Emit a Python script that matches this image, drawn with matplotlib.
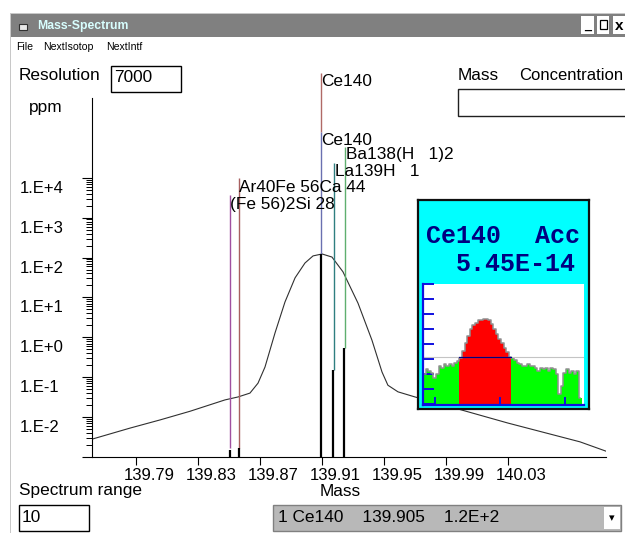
import matplotlib
matplotlib.use("Agg")
import matplotlib.pyplot as plt
from matplotlib.patches import Rectangle
from matplotlib.ticker import NullFormatter
from matplotlib.transforms import Affine2D

W, H = 625, 533

# spectrum curve
curve_mass = [139.7616, 139.7861, 139.8055, 139.8248, 139.8474, 139.8558, 139.8635, 139.8687,
              139.8732, 139.8797, 139.8861, 139.8926, 139.8990, 139.9042, 139.9100, 139.9164,
              139.9235, 139.9332, 139.9422, 139.9487, 139.9525, 139.9590, 139.9700, 139.9977,
              140.0299, 140.0764, 140.0932]
curve_ppm = [0.0028, 0.0053, 0.0085, 0.014, 0.027, 0.032, 0.040, 0.071,
             0.18, 1.3, 7.7, 31, 73, 110, 123, 103,
             44, 7.2, 0.85, 0.135, 0.063, 0.043, 0.032, 0.016,
             0.0071, 0.0024, 0.0014]

# coloured lines: mass, bottom, top
line_mass = [139.8506, 139.8564, 139.9091, 139.9091, 139.9179, 139.9248]
line_bottom = [0.0017, 0.0017, 1.4e5, 123, 0.15, 0.54]
line_top = [3700, 9800, 4.3e6, 1.4e5, 2.3e4, 5.9e4]
line_colors = ["#a050a0", "#a86060", "#b06a66", "#6a70b0", "#2f7f80", "#5faf6f"]

# black stems
stem_mass = [139.8506, 139.8564, 139.9091, 139.9173, 139.9240]
stem_ppm = [0.0015, 0.0017, 123, 0.15, 0.54]

x_ticks = [139.79, 139.83, 139.87, 139.91, 139.95, 139.99, 140.03]
y_decades = [1e-3, 1e-2, 1e-1, 1e0, 1e1, 1e2, 1e3, 1e4]
y_labels = ["", "1.E-2", "1.E-1", "1.E+0", "1.E+1", "1.E+2", "1.E+3", "1.E+4"]

# inset histogram (channel heights)
left_green = [1.96, 2.29, 2.18, 2.07, 1.73, 1.96, 2.51, 2.40, 2.62, 2.51, 2.62, 2.51, 2.73, 2.84]
mid_red = [3.07, 3.51, 4.07, 4.51, 4.96, 5.24, 5.40, 5.56, 5.62, 5.67, 5.67, 5.56, 5.29, 5.02,
           4.62, 4.29, 4.07, 3.73, 3.47, 3.11]
right_green = [3.02, 2.89, 2.73, 2.62, 2.51, 2.51, 2.62, 2.51, 2.51, 2.40, 2.18, 2.40, 2.29, 2.40,
               2.18, 2.40, 2.29, 1.96, 0.62, 1.18, 2.07, 2.29, 2.07, 2.18, 1.96, 2.18, 0.40]
threshold = 3.11

FONT = "Liberation Sans"
plt.rcParams["font.family"] = FONT


def fx(x):
    return x / W


def fy(y):
    return 1 - y / H


def label(x, y, s, size=12.4, **kw):
    kw.setdefault("va", "center")
    fig.text(fx(x), fy(y), s, fontsize=size, color=kw.pop("color", "black"), **kw)


def box(x0, y0, x1, y1, face="white", edge="none", lw=1.0):
    fig.add_artist(Rectangle((fx(x0), fy(y1)), fx(x1 - x0), (y1 - y0) / H, transform=fig.transFigure,
                             facecolor=face, edgecolor=edge, linewidth=lw, zorder=-1))


fig = plt.figure(figsize=(W / 100, H / 100), dpi=100, facecolor="white")

# window chrome
box(10, 13, 11, 533, face="#c8c8c8")
box(10, 13, 625, 14, face="#c8c8c8")
box(11, 14, 625, 37, face="#808080")
box(581, 16, 594, 34, face="white")
box(597, 16, 609, 34, face="white")
box(613, 16, 625, 34, face="white")
label(587.5, 26, "_", size=9, ha="center", weight="bold")
box(599.5, 20, 606.5, 29, face="white", edge="black", lw=0.9)
label(619, 26, "x", size=11, ha="center", weight="bold")
box(19, 24, 27, 30, face="#e8e8e8", edge="#303030", lw=0.8)
label(37, 26, "Mass-Spectrum", size=8.8, color="#d8ffff", weight="bold")
label(16, 47, "File", size=7.6)
label(43, 47, "NextIsotop", size=7.6)
label(106, 47, "NextIntf", size=7.6)

label(19, 76, "Resolution")
box(111, 66, 181, 92, edge="black")
label(114, 78, "7000")
label(29, 108, "ppm")
label(458, 76, "Mass")
label(519, 76, "Concentration", size=12)
box(457.5, 89.5, 640, 115.5, edge="#202020")

label(19, 491, "Spectrum range")
box(19, 505, 89, 531, edge="black")
label(22, 517, "10")
box(273, 505, 621, 531, face="#b8b8b8", edge="#808080")
label(278, 518, "1 Ce140    139.905    1.2E+2")
box(604, 507, 620, 529, face="white")
label(612, 518, "\u25be", size=8, ha="center", family="DejaVu Sans")

# main spectrum
ax = fig.add_axes([fx(92), fy(457), fx(606 - 92), (457 - 98) / H])
ax.patch.set_visible(False)
ax.set_xlim(139.7616, 140.0932)
ax.set_yscale("log")
ax.set_ylim(1e-3, 1e6)
ax.spines["top"].set_visible(False)
ax.spines["right"].set_visible(False)

ax.plot(curve_mass, curve_ppm, color="#303030", lw=0.8)
for m, b, t, c in zip(line_mass, line_bottom, line_top, line_colors):
    ax.plot([m, m], [b, t], color=c, lw=1.0, clip_on=False, solid_capstyle="butt")
ax.vlines(stem_mass, 1e-3, stem_ppm, color="black", lw=1.6)

ax.set_xticks(x_ticks)
ax.set_xticklabels(["%.2f" % v for v in x_ticks], fontsize=12)
ax.tick_params(axis="x", length=6, width=0.8, pad=2)
for t in ax.get_xticklabels():
    t.set_transform(t.get_transform() + Affine2D().translate(13, 0))
ax.set_yticks(y_decades)
ax.set_yticklabels(y_labels, fontsize=12)
ax.set_yticks([s * d for d in y_decades[:-1] for s in range(2, 10)], minor=True)
ax.yaxis.set_minor_formatter(NullFormatter())
ax.tick_params(axis="y", which="major", length=7, width=0.8, pad=0)
ax.tick_params(axis="y", which="minor", length=4, width=0.7)
for t in ax.get_yticklabels():
    t.set_horizontalalignment("left")
    t.set_transform(t.get_transform() + Affine2D().translate(-63, -9))

label(321, 82, "Ce140")
label(321, 140, "Ce140")
label(346, 155, "Ba138(H   1)2")
label(335, 172, "La139H   1")
label(239, 188, "Ar40Fe 56Ca 44")
label(230, 204, "(Fe 56)2Si 28")
label(340, 491, "Mass", ha="center")

# inset panel
panel = fig.add_axes([fx(418), fy(409), fx(589 - 418), (409 - 200) / H], zorder=5)
panel.set_facecolor("#00ffff")
panel.set_xticks([])
panel.set_yticks([])
for s in panel.spines.values():
    s.set_linewidth(1.6)
    s.set_color("#101010")

NAVY = "#000080"
fig.text(fx(426), fy(236), "Ce140", fontsize=18, family="Liberation Mono", weight="bold",
         color=NAVY, va="center", zorder=6)
fig.text(fx(535), fy(236), "Acc", fontsize=18, family="Liberation Mono", weight="bold",
         color=NAVY, va="center", zorder=6)
fig.text(fx(456), fy(264), "5.45E-14", fontsize=18, family="Liberation Mono", weight="bold",
         color=NAVY, va="center", zorder=6)

hist = fig.add_axes([fx(423), fy(405), fx(584 - 423), (405 - 284) / H], zorder=6)
counts = left_green + mid_red + right_green
channels = list(range(len(counts)))
bar_colors = ["#00ff00"] * len(left_green) + ["#ff0000"] * len(mid_red) + ["#00ff00"] * len(right_green)
hist.bar(channels, counts, width=1.0, color=bar_colors, linewidth=0)
hist.step(channels, counts, where="mid", color="#909090", lw=1.1)
hist.axhline(threshold, color="#c4c4c4", lw=0.8)
hist.plot([len(left_green) - 0.5, len(left_green) + len(mid_red) - 0.5], [threshold, threshold],
          color=NAVY, lw=0.9)
hist.set_xlim(-0.5, 61.4)
hist.set_ylim(-0.1, 8)
hist.set_xticks([4, 29, 54])
hist.set_yticks(range(0, 9))
hist.tick_params(axis="x", direction="in", length=6, width=1.4, color="#1010e0", labelbottom=False)
hist.tick_params(axis="y", direction="in", length=8, width=1.4, color="#1010e0", labelleft=False)
hist.spines["top"].set_visible(False)
hist.spines["right"].set_visible(False)
hist.spines["left"].set_color("#1010e0")
hist.spines["bottom"].set_color("#1010e0")
hist.spines["left"].set_linewidth(1.6)
hist.spines["bottom"].set_linewidth(1.6)

fig.savefig("out.png", dpi=100)
